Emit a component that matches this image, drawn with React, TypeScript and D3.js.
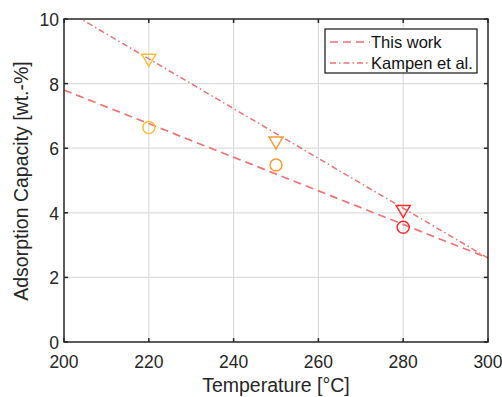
import React from "react";
import * as d3 from "d3";

const xTicks = [200, 220, 240, 260, 280, 300];
const yTicks = [0, 2, 4, 6, 8, 10];
const temps = [220, 250, 280];
const thisWorkMeasured = [6.64, 5.48, 3.55];
const kampenMeasured = [8.72, 6.16, 4.04];
const fitTemps = [200, 300];
const thisWorkFit = [7.8, 2.6];
const kampenFit = [10.31, 2.6];
const legendLabels = ["This work", "Kampen et al."];

const markerColors = ["#FDBF2D", "#FF982E", "#FF2B2B"];
const lineColor = "#F27272";

const W = 502, H = 397;
const L = 64, R = 488, T = 19, B = 342;

export default function App() {
  const x = d3.scaleLinear().domain([200, 300]).range([L, R]);
  const y = d3.scaleLinear().domain([0, 10]).range([B, T]);
  const line = d3.line<[number, number]>().x(d => x(d[0])).y(d => y(d[1]));
  const twPts: [number, number][] = fitTemps.map((t, i) => [t, thisWorkFit[i]]);
  const kPts: [number, number][] = fitTemps.map((t, i) => [t, kampenFit[i]]);
  const font = "Liberation Sans, Arial, Helvetica, sans-serif";
  const tri = (cx: number, cy: number) => {
    const w = 7, h = 6;
    return `M${cx - w},${cy - h}L${cx + w},${cy - h}L${cx},${cy + h}Z`;
  };
  return (
    <svg width={W} height={H} style={{ position: "absolute", left: 0, top: 0, background: "#fff" }} fontFamily={font}>
      <defs>
        <clipPath id="plotclip">
          <rect x={L} y={T} width={R - L} height={B - T} />
        </clipPath>
      </defs>
      <rect x={0} y={0} width={W} height={H} fill="#fff" />
      {/* grid */}
      {xTicks.slice(1, -1).map(t => (
        <line key={"gx" + t} x1={x(t)} x2={x(t)} y1={T} y2={B} stroke="#dcdcdc" strokeWidth={1.2} />
      ))}
      {yTicks.slice(1, -1).map(t => (
        <line key={"gy" + t} x1={L} x2={R} y1={y(t)} y2={y(t)} stroke="#dcdcdc" strokeWidth={1.2} />
      ))}
      {/* fit lines */}
      <g clipPath="url(#plotclip)">
        <path d={line(twPts) || ""} fill="none" stroke={lineColor} strokeWidth={1.7} strokeDasharray="8,5" />
        <path d={line(kPts) || ""} fill="none" stroke={lineColor} strokeWidth={1.5} strokeDasharray="6,3,1.5,3" />
      </g>
      {/* markers */}
      {temps.map((t, i) => (
        <circle key={"c" + t} cx={x(t)} cy={y(thisWorkMeasured[i])} r={6} fill="none" stroke={markerColors[i]} strokeWidth={1.5} />
      ))}
      {temps.map((t, i) => (
        <path key={"t" + t} d={tri(x(t), y(kampenMeasured[i]))} fill="none" stroke={markerColors[i]} strokeWidth={1.5} />
      ))}
      {/* axes box */}
      <rect x={L} y={T} width={R - L} height={B - T} fill="none" stroke="#262626" strokeWidth={1.5} />
      {xTicks.map(t => (
        <g key={"xt" + t}>
          <line x1={x(t)} x2={x(t)} y1={B} y2={B - 4} stroke="#262626" strokeWidth={1.5} />
          <line x1={x(t)} x2={x(t)} y1={T} y2={T + 4} stroke="#262626" strokeWidth={1.5} />
          <text x={x(t)} y={B + 26} textAnchor="middle" fontSize={17.5} fill="#262626">{t}</text>
        </g>
      ))}
      {yTicks.map(t => (
        <g key={"yt" + t}>
          <line x1={L} x2={L + 4} y1={y(t)} y2={y(t)} stroke="#262626" strokeWidth={1.5} />
          <line x1={R} x2={R - 4} y1={y(t)} y2={y(t)} stroke="#262626" strokeWidth={1.5} />
          <text x={L - 5} y={y(t) + 7} textAnchor="end" fontSize={17.5} fill="#262626">{t}</text>
        </g>
      ))}
      <text x={(L + R) / 2 + 0} y={392} textAnchor="middle" fontSize={19.5} fill="#262626">Temperature [°C]</text>
      <text transform={`translate(${28},${181}) rotate(-90)`} textAnchor="middle" fontSize={19.5} fill="#262626">Adsorption Capacity [wt.-%]</text>
      {/* legend */}
      <g>
        <rect x={325} y={29} width={152} height={44} fill="#fff" stroke="#262626" strokeWidth={1.3} />
        {legendLabels.map((lab, i) => (
          <g key={lab}>
            <line x1={330} x2={370} y1={42 + i * 21} y2={42 + i * 21} stroke={lineColor} strokeWidth={1.5}
              strokeDasharray={i === 0 ? "8,5" : "6,3,1.5,3"} />
            <text x={371} y={48 + i * 21} fontSize={16.5} fill="#111">{lab}</text>
          </g>
        ))}
      </g>
    </svg>
  );
}
